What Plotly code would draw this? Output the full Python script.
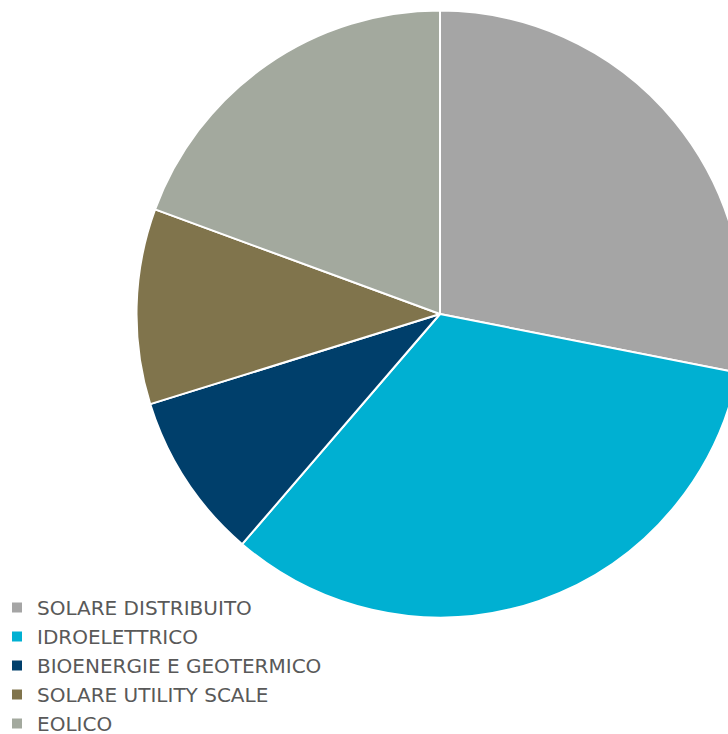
import plotly.graph_objects as go

# Quota per fonte rinnovabile (%)
categories = ["SOLARE DISTRIBUITO", "IDROELETTRICO", "BIOENERGIE E GEOTERMICO",
              "SOLARE UTILITY SCALE", "EOLICO"]
values = [28.1, 33.2, 8.9, 10.4, 19.4]
colors = ["#A5A5A5", "#00B0D2", "#003F6B", "#80744C", "#A3A99E"]

W, H = 760, 734
cx, cy, r = 440, 314, 303.5

fig = go.Figure(go.Pie(
    labels=categories,
    values=values,
    sort=False,
    direction="clockwise",
    rotation=0,
    textinfo="none",
    hoverinfo="label+percent",
    marker=dict(colors=colors, line=dict(color="white", width=2)),
    domain=dict(x=[(cx - r) / W, (cx + r) / W],
                y=[1 - (cy + r) / H, 1 - (cy - r) / H]),
))

fig.update_layout(
    width=W, height=H,
    margin=dict(l=0, r=0, t=0, b=0, autoexpand=False),
    paper_bgcolor="white",
    plot_bgcolor="white",
    showlegend=True,
    legend=dict(
        x=-3 / W, y=1 - 588 / H, xanchor="left", yanchor="top",
        font=dict(family="DejaVu Sans, sans-serif", size=20, color="#595959"),
        bgcolor="rgba(0,0,0,0)",
        traceorder="normal",
        itemclick=False,
    ),
)

fig.write_html("out.html",
               post_script="document.body.style.margin='0';"
                           "document.body.style.overflow='hidden';"
                           "document.documentElement.style.overflow='hidden';")
